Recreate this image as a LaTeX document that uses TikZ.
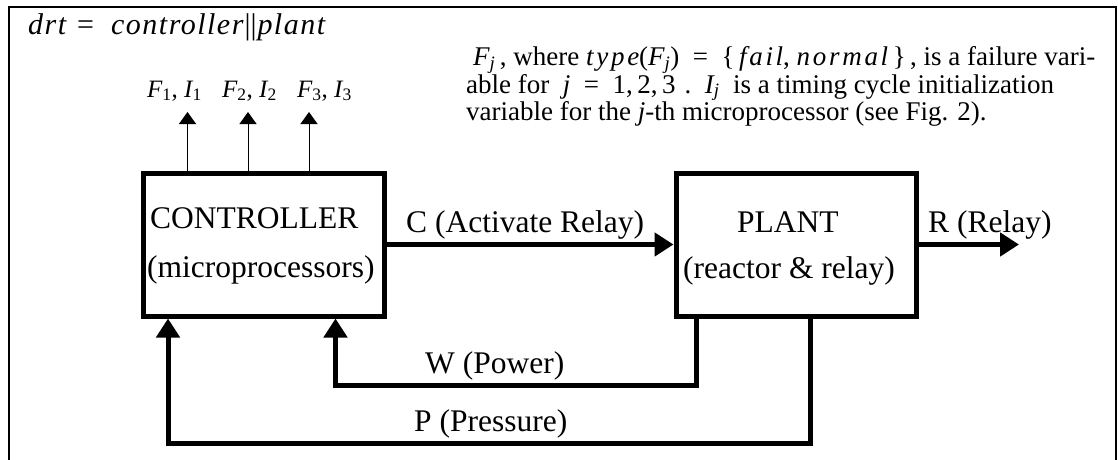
\documentclass[tikz,border=0pt]{standalone}
\usepackage{fontspec}
\setmainfont{Liberation Serif}
\newfontfamily\spacedit{Liberation Serif}[LetterSpace=10]
\newfontfamily\titleit{Liberation Serif}[LetterSpace=5]
\usetikzlibrary{arrows.meta}
\newcommand\vit[1]{{\spacedit\itshape #1}}
\newcommand\tit[1]{{\titleit\itshape #1}}
\newcommand\sbs[1]{\textsubscript{#1}}
\tikzset{
  blockbox/.style={draw, line width=5pt, minimum width=240pt, minimum height=143pt, inner sep=0pt},
  boxtext/.style={anchor=base west, inner sep=0pt, font=\fontsize{31.5}{36}\selectfont},
  notetext/.style={anchor=base west, inner sep=0pt, font=\fontsize{27}{28}\selectfont},
  flabel/.style={anchor=base west, inner sep=0pt, font=\fontsize{25}{28}\selectfont},
  thickarrow/.style={line width=5pt, -{Triangle[length=19pt,width=23pt]}},
  thinarrow/.style={line width=1pt, -{Triangle[length=12pt,width=17pt]}},
  frameline/.style={line width=1.5pt}
}
\begin{document}
\begin{tikzpicture}[x=1pt,y=-1pt]
\useasboundingbox (0,0) rectangle (1118,460);
% frame
\draw[frameline] (9,462) -- (9,7) -- (1116,7) -- (1116,462);
% title
\node[anchor=base west, inner sep=0pt, font=\fontsize{30}{33}\selectfont] (title) at (28,35)
  {\tit{drt}\hspace{11pt}=\hspace{17pt}\tit{controller}\hspace{1pt}||\hspace{1pt}\tit{plant}};
% note
\node[notetext] (note1) at (473,66) {\vit{F}\sbs{\itshape j}\,, where \vit{type}(\vit{F}\sbs{\itshape j})\enspace=\enspace\{\,\vit{fail}, \vit{normal}\,\}\,, is a failure vari-};
\node[notetext] (note2) at (466,93) {able for\enspace\vit{j}\enspace=\enspace1,\,2,\,3\,\,.\enspace\vit{I}\sbs{\itshape j}\enspace is a timing cycle initialization};
\node[notetext] (note3) at (466,120) {variable for the \textit{j}-th microprocessor (see Fig. 2).};
% blocks
\node[blockbox, minimum width=241pt] (ctrl) at (263.5,244.5) {};
\node[blockbox] (plant) at (796,244.5) {};
\node[boxtext] (ctrlA) at (150,228) {CONTROLLER};
\node[boxtext] (ctrlB) at (147,277) {(microprocessors)};
\node[boxtext] (plantA) at (737,232) {PLANT};
\node[boxtext] (plantB) at (683,278) {(reactor \& relay)};
% F/I outputs
\coordinate (f1) at (187.5,112);
\coordinate (f2) at (248,112);
\coordinate (f3) at (309,112);
\draw[thinarrow] (ctrl.north -| f1) -- (f1);
\draw[thinarrow] (ctrl.north -| f2) -- (f2);
\draw[thinarrow] (ctrl.north -| f3) -- (f3);
\node[flabel] (fl1) at (147,97) {\vit{F}\sbs{1}, \vit{I}\sbs{1}};
\node[flabel] (fl2) at (222,97) {\vit{F}\sbs{2}, \vit{I}\sbs{2}};
\node[flabel] (fl3) at (297,97) {\vit{F}\sbs{3}, \vit{I}\sbs{3}};
% C arrow
\draw[thickarrow] (ctrl.east) -- (plant.west);
\node[boxtext] (clab) at (406,232) {C (Activate Relay)};
% R arrow
\coordinate (rend) at (1019,244.5);
\draw[thickarrow] (plant.east) -- (rend);
\node[boxtext] (rlab) at (928,232) {R (Relay)};
% W feedback
\coordinate (wa) at (696,385);
\coordinate (wb) at (335.5,385);
\draw[thickarrow] (plant.south -| wa) -- (wa) -- (wb) -- (ctrl.south -| wb);
\node[boxtext] (wlab) at (425,373) {W (Power)};
% P feedback
\coordinate (pa) at (810,443);
\coordinate (pb) at (168,443);
\draw[thickarrow] (plant.south -| pa) -- (pa) -- (pb) -- (ctrl.south -| pb);
\node[boxtext] (plab) at (414,431) {P (Pressure)};
\end{tikzpicture}
\end{document}
